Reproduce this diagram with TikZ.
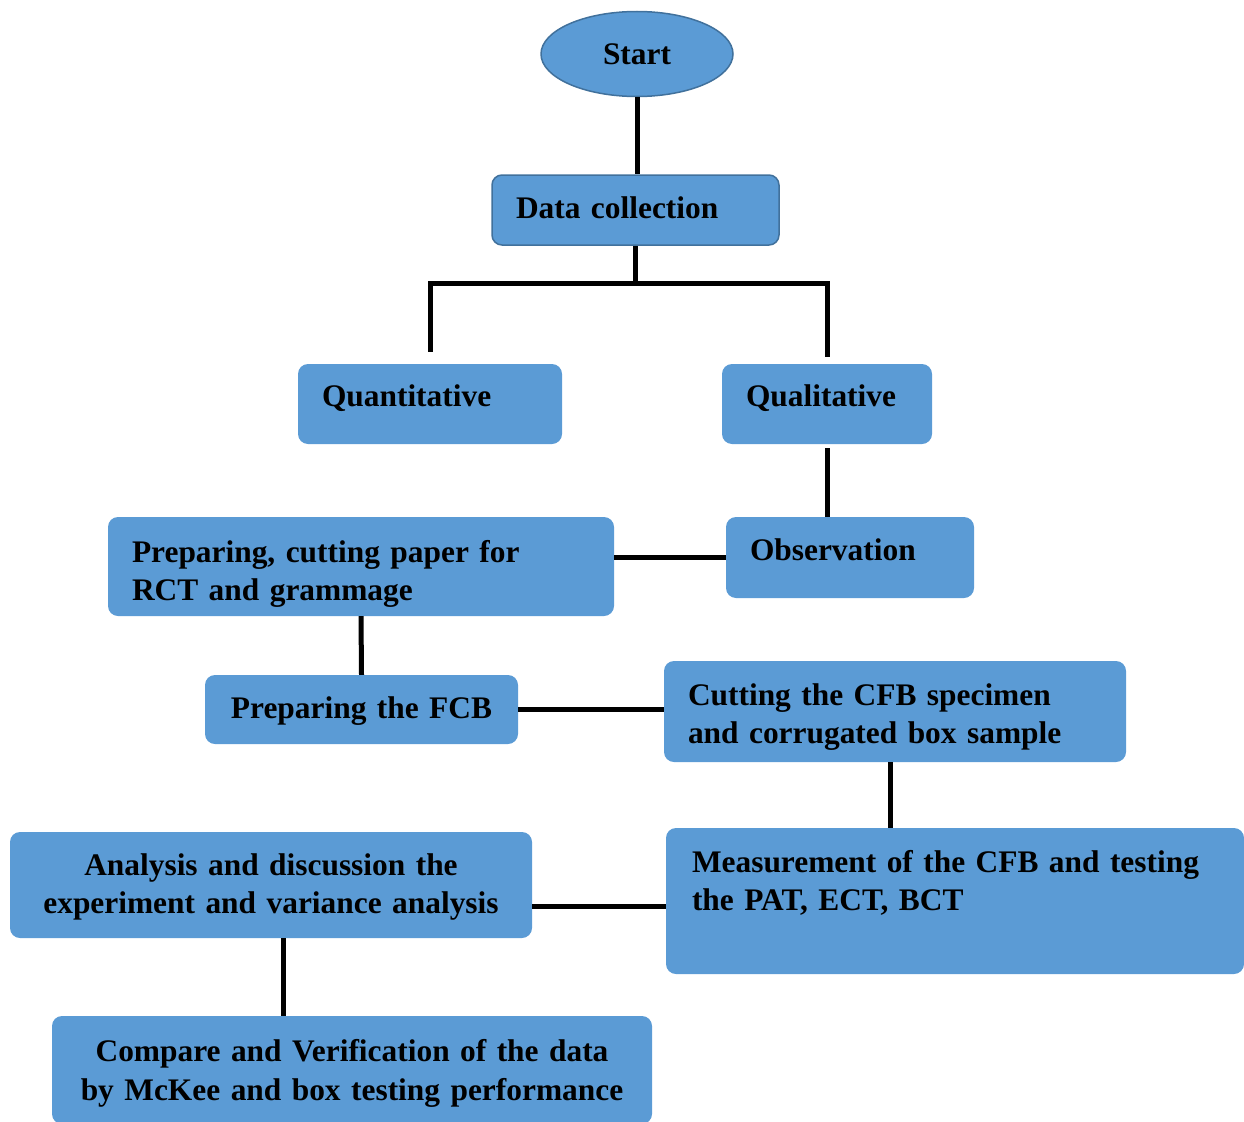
\documentclass[tikz,border=0pt]{standalone}
\usepackage{fontspec}
\setmainfont{Liberation Serif}
\usepackage{xcolor}
\definecolor{boxblue}{HTML}{5B9BD5}
\definecolor{boxedge}{HTML}{41719C}
\usepackage{tikz}
\usetikzlibrary{shapes.geometric,positioning,calc}

\begin{document}
\begin{tikzpicture}[x=1pt,y=-1pt,
  stage/.style={fill=boxblue,rounded corners=10pt,inner xsep=24pt,inner ysep=0pt,
                font=\fontsize{31.4}{38.5}\selectfont\bfseries,align=left},
  txt/.style 2 args={text height=#1,text depth=#2},
  startnode/.style={ellipse,draw=boxedge,fill=boxblue,line width=1.5pt,
                 minimum width=192pt,minimum height=85pt,
                 font=\fontsize{31.4}{38.5}\selectfont\bfseries},
  link/.style={line width=5pt,black}
]
\clip (0,0) rectangle (1244,1121);

\node[startnode] (start) at (637,54) {Start};
\node[stage,draw=boxedge,line width=1.5pt,text width=239pt,minimum height=70pt,txt={16pt}{0pt}]
  (datacol) at (635.5,210) {Data collection};
\node[stage,text width=216pt,minimum height=80pt,txt={4pt}{0pt}] (quant) at (430,404) {Quantitative};
\node[stage,text width=162pt,minimum height=80pt,txt={4pt}{0pt}] (qual) at (827,404) {Qualitative};
\node[stage,text width=200pt,minimum height=81pt,txt={6.4pt}{0pt}] (observ) at (850,557.5) {Observation};
\node[stage,text width=458pt,minimum height=99pt,txt={0pt}{9pt}] (prepcut) at (361,566.5)
  {Preparing, cutting paper for\\RCT and grammage};
\node[stage,text width=273pt,minimum height=69pt,inner xsep=20pt,align=center,txt={17.6pt}{0pt}]
  (fcb) at (361.5,709.5) {Preparing the FCB};
\node[stage,text width=414pt,minimum height=101pt,txt={0pt}{13pt}] (cutcfb) at (895,711.5)
  {Cutting the CFB specimen\\and corrugated box sample};
\node[stage,text width=526pt,minimum height=146pt,inner xsep=26pt,txt={0pt}{58pt}]
  (measure) at (955,901) {Measurement of the CFB and testing\\the PAT, ECT, BCT};
\node[stage,text width=474pt,minimum height=106pt,align=center,txt={0pt}{20pt}] (analysis) at (271,885)
  {Analysis and discussion the\\experiment and variance analysis};
\node[stage,text width=552pt,minimum height=108pt,align=center,txt={0pt}{16.6pt}] (compare) at (352,1070)
  {Compare and Verification of the data\\by McKee and box testing performance};

% connectors
\draw[link] (start.south) -- (start.south |- datacol.north);
\draw[link] (datacol.south) -- ++(0,38) coordinate (split);
\draw[link,shorten >=12pt] (split) -| (quant.north);
\draw[link,shorten >=7pt] (split) -| (qual.north);
\draw[link,shorten <=4pt] (qual.south) -- (qual.south |- observ.north);
\draw[link] (observ.west) -- (observ.west -| prepcut.east);
\draw[link] (prepcut.south) -- (fcb.north);
\draw[link] (fcb.east) -- (fcb.east -| cutcfb.west);
\draw[link] ([xshift=-5pt]cutcfb.south) -- ([xshift=-5pt]cutcfb.south |- measure.north);
\draw[link] ([yshift=-5pt]measure.west) -- ([yshift=-5pt]measure.west -| analysis.east);
\draw[link] ([xshift=12pt]analysis.south) -- ([xshift=12pt]analysis.south |- compare.north);
\end{tikzpicture}
\end{document}
